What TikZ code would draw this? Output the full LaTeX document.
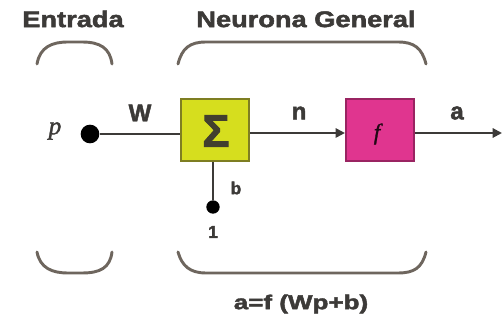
\documentclass[tikz,border=0pt]{standalone}
\usepackage{fontspec}
\setmainfont{Liberation Sans}
\newfontfamily\heavy[FakeBold=2]{Liberation Sans Bold}
\newfontfamily\serifit[FakeBold=1.5]{Liberation Serif Italic}
\usetikzlibrary{arrows.meta}
\definecolor{sumfill}{HTML}{D6DE1E}
\definecolor{sumedge}{HTML}{7E7E22}
\definecolor{ffill}{HTML}{E0358F}
\definecolor{fedge}{HTML}{9A2462}
\definecolor{bracec}{HTML}{6E665E}
\definecolor{wirec}{HTML}{3C3A38}
\begin{document}
\begin{tikzpicture}[x=0.75pt,y=-0.75pt,
  title/.style={font=\heavy\fontsize{17}{20}\selectfont, xscale=1.2, text=wirec},
  lab/.style={font=\heavy\fontsize{18}{20}\selectfont, text=wirec},
  small/.style={font=\heavy\fontsize{13}{15}\selectfont, text=wirec},
  blk/.style={draw, line width=1.6pt, minimum width=51pt, minimum height=47pt, inner sep=0pt},
  dot/.style={circle, fill=black, inner sep=0pt, minimum size=#1},
  wire/.style={draw=wirec, line width=1.5pt},
  brc/.style={draw=bracec, line width=2.2pt, line cap=round}]
\useasboundingbox (0,0) rectangle (504,320);
% titles
\node[title] (tin) at (73,19) {Entrada};
\node[title] (tneu) at (306,19) {Neurona General};
% braces
\draw[brc] (37,64) .. controls (40,47) and (52,42) .. (68,42) -- (82,42) .. controls (100,42) and (110,48) .. (112,64);
\draw[brc] (178,64) .. controls (182,48) and (190,42) .. (206,42) -- (398,42) .. controls (414,42) and (422,48) .. (426,64);
\draw[brc] (37,252) .. controls (40,268) and (52,273) .. (68,273) -- (82,273) .. controls (100,273) and (110,268) .. (112,252);
\draw[brc] (178,252) .. controls (182,266) and (190,273) .. (206,273) -- (398,273) .. controls (414,273) and (422,268) .. (426,252);
% nodes
\node[dot=14pt] (p) at (90,134) {};
\node[font=\serifit\fontsize{19}{21}\selectfont, text=wirec] (plab) at (55,131) {p};
\node[blk, draw=sumedge, fill=sumfill] (sum) at (215,130) {};
\node[font=\heavy\fontsize{34}{36}\selectfont, text=black!70!olive] (sig) at (216,131) {Σ};
\node[blk, draw=fedge, fill=ffill] (f) at (380,130) {};
\node[font=\serifit\fontsize{17}{19}\selectfont, text=black!85!ffill] (flab) at (377,134) {f};
\node[dot=10pt] (one) at (213,207) {};
\coordinate (out) at (502,133);
% wires
\draw[wire] (p) -- (p.center -| sum.west);
\draw[wire, -{Triangle[length=7pt,width=7pt]}] (sum.east |- 0,133) -- (f.west |- 0,133);
\draw[wire, -{Triangle[length=7pt,width=7pt]}] (f.east |- 0,133) -- (out);
\draw[wire] (one) -- (one |- sum.south);
% labels
\node[lab] (W) at (140,113) {W};
\node[lab] (n) at (299,113) {n};
\node[lab] (a) at (457,113) {a};
\node[small] (b) at (236,188) {b};
\node[small] (l1) at (213,232) {1};
\node[small, font=\heavy\fontsize{15}{17}\selectfont, xscale=1.3] (eq) at (301,304) {a=f (Wp+b)};
\end{tikzpicture}
\end{document}
